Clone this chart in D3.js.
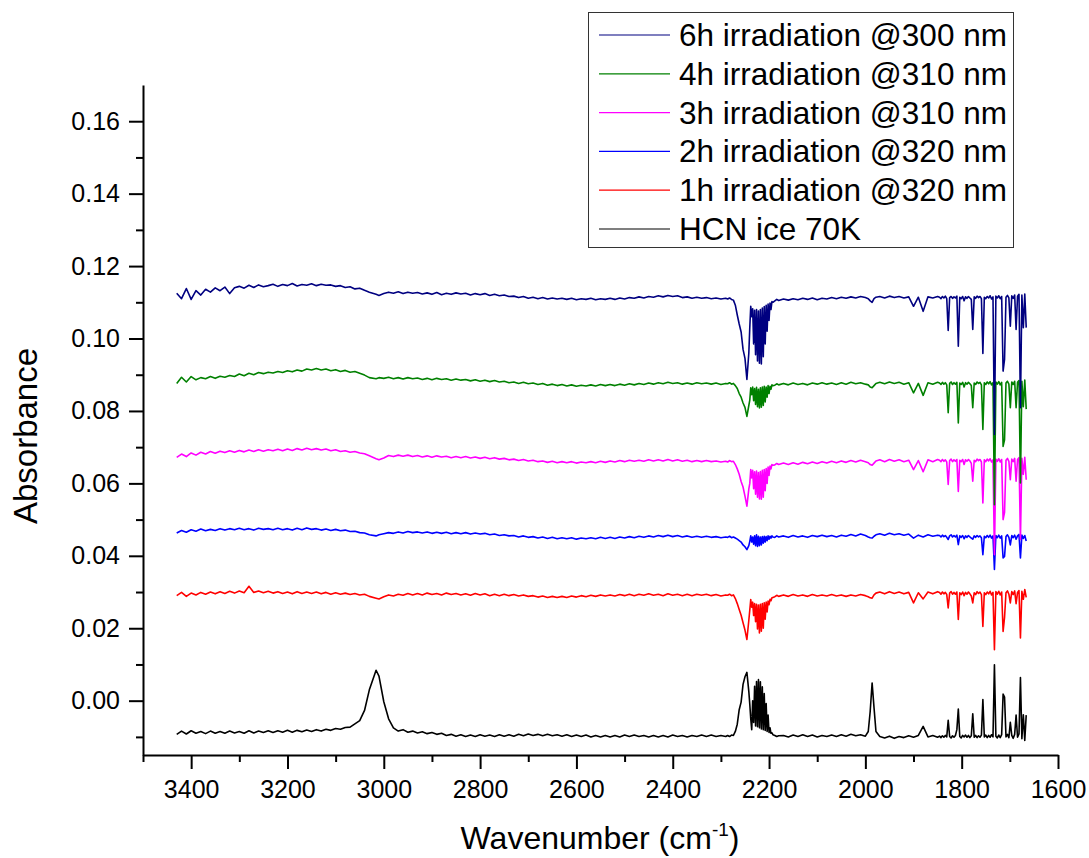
<!DOCTYPE html>
<html><head><meta charset="utf-8">
<script src="https://cdn.jsdelivr.net/npm/d3@7"></script>
<style>body{margin:0;background:#fff}</style>
</head><body><svg id="chart" width="1089" height="858"></svg>
<script>
// shared wavenumber grid (cm^-1)
const wavenumbers = [
3430,3420,3410,3400,3390,3380,3370,3360,3350,3340,
3330,3320,3310,3300,3290,3280,3270,3260,3250,3240,
3230,3220,3210,3200,3190,3180,3170,3160,3150,3140,
3130,3120,3110,3100,3090,3080,3070,3060,3050,3040,
3030,3016,3010,3000,2990,2980,2970,2960,2950,2940,
2930,2920,2910,2900,2890,2880,2870,2860,2850,2840,
2830,2820,2810,2800,2790,2780,2770,2760,2750,2740,
2730,2720,2710,2700,2690,2680,2670,2660,2650,2640,
2630,2620,2610,2600,2590,2580,2570,2560,2550,2540,
2530,2520,2510,2500,2490,2480,2470,2460,2450,2440,
2430,2420,2410,2400,2390,2380,2370,2360,2350,2340,
2330,2320,2310,2300,2290,
2286,2282,2278,2274,2270,2266,2262,2258,2254,2250,2246,2242,
2240,2238,2236,2234,2232,2230,2228,2226,2224,2222,2220,2218,2216,2214,2212,2210,2208,2206,2204,2202,2200,2198,2196,2194,2192,
2188,2184,2180,
2170,2160,2150,2140,2130,2120,2110,2100,2090,2080,
2070,2060,2050,2040,2030,2020,2010,2000,1994,1990,1986,1982,1978,
1970,1960,1950,1940,1930,1920,1910,1900,1890,1880,
1870,1860,1850,
1846,1843,1840,1837,1834,1831,1828,1825,1822,1819,
1816,1813,1810,1807,1804,1801,1798,1795,1792,1789,
1786,1783,1780,1777,1774,1771,1768,1765,1762,1759,
1756,1753,1750,1747,1744,1741,1738,1735,1732,1729,
1726,1723,1720,1717,1714,1711,1708,1705,1702,1699,
1696,1693,1690,1687,1684,1681,1678,1675,1672,1669,
1666];

const irr6h300 = [
0.1125,0.1110,0.1138,0.1108,0.1132,0.1120,0.1136,0.1128,0.1140,0.1132,
0.1142,0.1124,0.1140,0.1144,0.1139,0.1147,0.1141,0.1148,0.1143,0.1146,
0.1150,0.1144,0.1149,0.1146,0.1152,0.1145,0.1149,0.1147,0.1151,0.1146,
0.1150,0.1147,0.1148,0.1144,0.1146,0.1141,0.1143,0.1137,0.1139,0.1133,
0.1128,0.1122,0.1119,0.1124,0.1128,0.1125,0.1129,0.1124,0.1128,0.1125,
0.1127,0.1123,0.1126,0.1122,0.1127,0.1121,0.1125,0.1122,0.1126,0.1123,
0.1125,0.1120,0.1124,0.1121,0.1124,0.1119,0.1122,0.1118,0.1120,0.1116,
0.1117,0.1113,0.1116,0.1111,0.1114,0.1110,0.1113,0.1109,0.1112,0.1109,
0.1111,0.1108,0.1111,0.1107,0.1110,0.1108,0.1111,0.1107,0.1110,0.1108,
0.1111,0.1108,0.1112,0.1109,0.1113,0.1111,0.1115,0.1112,0.1116,0.1114,
0.1118,0.1115,0.1119,0.1116,0.1118,0.1113,0.1115,0.1111,0.1114,0.1111,
0.1113,0.1110,0.1112,0.1109,0.1111,
0.1109,0.1112,0.1108,0.1106,0.1092,0.1065,0.1040,0.1018,0.0970,0.0945,0.0887,0.0960,
0.1030,0.1089,0.1060,0.1082,0.0985,0.1078,0.0955,0.1080,0.0938,0.1076,0.0932,0.1080,0.0930,0.1084,0.0950,0.1088,0.0985,0.1092,0.1020,0.1095,0.1050,0.1098,0.1080,0.1102,0.1100,
0.1104,0.1108,0.1105,
0.1109,0.1106,0.1110,0.1107,0.1111,0.1108,0.1112,0.1107,0.1111,0.1109,
0.1113,0.1110,0.1114,0.1111,0.1115,0.1112,0.1116,0.1113,0.1110,0.1104,0.1100,0.1110,0.1114,
0.1116,0.1112,0.1117,0.1113,0.1116,0.1112,0.1115,0.1089,0.1114,0.1075,
0.1115,0.1112,0.1116,
0.1114,0.1110,0.1116,0.1112,0.1117,0.1110,0.1022,0.1113,0.1116,0.1111,
0.1115,0.1112,0.1117,0.0979,0.1114,0.1110,0.1116,0.1104,0.1115,0.1111,
0.1116,0.1112,0.1108,0.1025,0.1115,0.1111,0.1117,0.1113,0.1116,0.1110,
0.0959,0.1114,0.1110,0.1116,0.1112,0.1118,0.1109,0.1115,0.0735,0.1117,
0.1112,0.1118,0.1110,0.1116,0.0910,0.0942,0.1114,0.1119,0.1112,0.1034,
0.1118,0.1111,0.1120,0.1025,0.1117,0.1122,0.0809,0.1120,0.1030,0.1123,
0.1030];

const irr4h310 = [
0.0876,0.0893,0.0880,0.0895,0.0886,0.0892,0.0889,0.0895,0.0890,0.0896,
0.0893,0.0898,0.0895,0.0902,0.0897,0.0904,0.0900,0.0906,0.0903,0.0907,
0.0905,0.0909,0.0906,0.0911,0.0908,0.0913,0.0910,0.0916,0.0913,0.0917,
0.0913,0.0916,0.0911,0.0914,0.0909,0.0912,0.0907,0.0909,0.0904,0.0899,
0.0892,0.0889,0.0892,0.0890,0.0893,0.0889,0.0892,0.0888,0.0892,0.0889,
0.0891,0.0887,0.0890,0.0886,0.0890,0.0887,0.0889,0.0885,0.0888,0.0885,
0.0887,0.0883,0.0886,0.0882,0.0885,0.0881,0.0884,0.0880,0.0882,0.0878,
0.0880,0.0876,0.0879,0.0875,0.0877,0.0873,0.0876,0.0871,0.0874,0.0870,
0.0873,0.0869,0.0872,0.0868,0.0871,0.0869,0.0872,0.0869,0.0873,0.0870,
0.0873,0.0870,0.0874,0.0871,0.0875,0.0872,0.0876,0.0873,0.0877,0.0874,
0.0878,0.0875,0.0879,0.0876,0.0878,0.0874,0.0877,0.0874,0.0878,0.0875,
0.0877,0.0874,0.0877,0.0873,0.0876,
0.0875,0.0878,0.0874,0.0876,0.0870,0.0862,0.0848,0.0838,0.0822,0.0810,0.0785,0.0815,
0.0830,0.0864,0.0845,0.0866,0.0828,0.0862,0.0818,0.0865,0.0812,0.0860,0.0808,0.0864,0.0810,0.0866,0.0815,0.0868,0.0825,0.0866,0.0838,0.0870,0.0848,0.0868,0.0860,0.0872,0.0870,
0.0871,0.0875,0.0872,
0.0876,0.0872,0.0877,0.0873,0.0876,0.0872,0.0877,0.0874,0.0878,0.0874,
0.0877,0.0873,0.0878,0.0874,0.0879,0.0875,0.0878,0.0874,0.0872,0.0866,0.0864,0.0870,0.0876,
0.0879,0.0875,0.0880,0.0876,0.0879,0.0874,0.0878,0.0850,0.0876,0.0843,
0.0878,0.0874,0.0879,
0.0877,0.0873,0.0879,0.0874,0.0878,0.0872,0.0795,0.0876,0.0880,0.0873,
0.0878,0.0874,0.0879,0.0767,0.0877,0.0873,0.0879,0.0866,0.0878,0.0874,
0.0879,0.0875,0.0870,0.0809,0.0877,0.0873,0.0880,0.0876,0.0879,0.0872,
0.0749,0.0878,0.0873,0.0880,0.0875,0.0881,0.0872,0.0878,0.0541,0.0880,
0.0874,0.0881,0.0872,0.0879,0.0702,0.0720,0.0877,0.0882,0.0874,0.0809,
0.0880,0.0873,0.0882,0.0809,0.0879,0.0884,0.0601,0.0882,0.0812,0.0885,
0.0805];

const irr3h310 = [
0.0672,0.0681,0.0674,0.0684,0.0678,0.0686,0.0681,0.0688,0.0683,0.0689,
0.0685,0.0690,0.0686,0.0691,0.0687,0.0692,0.0688,0.0693,0.0689,0.0693,
0.0690,0.0694,0.0690,0.0695,0.0691,0.0696,0.0692,0.0697,0.0693,0.0696,
0.0692,0.0695,0.0690,0.0693,0.0688,0.0690,0.0686,0.0688,0.0684,0.0682,
0.0676,0.0668,0.0665,0.0670,0.0677,0.0674,0.0678,0.0675,0.0678,0.0674,
0.0677,0.0673,0.0676,0.0672,0.0676,0.0673,0.0675,0.0671,0.0674,0.0671,
0.0674,0.0670,0.0673,0.0669,0.0672,0.0668,0.0671,0.0667,0.0669,0.0665,
0.0667,0.0663,0.0666,0.0662,0.0664,0.0660,0.0662,0.0658,0.0661,0.0657,
0.0660,0.0657,0.0660,0.0656,0.0659,0.0657,0.0660,0.0657,0.0661,0.0658,
0.0662,0.0659,0.0663,0.0660,0.0664,0.0661,0.0664,0.0661,0.0665,0.0662,
0.0665,0.0662,0.0666,0.0662,0.0665,0.0661,0.0664,0.0660,0.0663,0.0660,
0.0663,0.0660,0.0662,0.0659,0.0661,
0.0659,0.0663,0.0660,0.0661,0.0652,0.0640,0.0625,0.0605,0.0590,0.0565,0.0537,0.0585,
0.0600,0.0638,0.0615,0.0636,0.0585,0.0632,0.0570,0.0634,0.0562,0.0630,0.0557,0.0633,0.0556,0.0636,0.0562,0.0638,0.0580,0.0641,0.0600,0.0645,0.0622,0.0648,0.0640,0.0652,0.0650,
0.0651,0.0655,0.0652,
0.0656,0.0652,0.0657,0.0653,0.0658,0.0654,0.0659,0.0655,0.0660,0.0656,
0.0661,0.0657,0.0662,0.0658,0.0663,0.0659,0.0664,0.0660,0.0657,0.0652,0.0650,0.0656,0.0662,
0.0665,0.0660,0.0666,0.0661,0.0665,0.0660,0.0664,0.0638,0.0663,0.0632,
0.0665,0.0660,0.0666,
0.0664,0.0660,0.0666,0.0661,0.0665,0.0659,0.0597,0.0663,0.0667,0.0660,
0.0665,0.0661,0.0666,0.0578,0.0664,0.0660,0.0666,0.0652,0.0665,0.0661,
0.0666,0.0662,0.0655,0.0606,0.0664,0.0660,0.0667,0.0663,0.0666,0.0659,
0.0546,0.0665,0.0660,0.0667,0.0662,0.0668,0.0659,0.0665,0.0403,0.0667,
0.0661,0.0668,0.0659,0.0666,0.0500,0.0520,0.0664,0.0669,0.0661,0.0610,
0.0667,0.0660,0.0669,0.0606,0.0666,0.0671,0.0445,0.0669,0.0625,0.0672,
0.0610];

const irr2h320 = [
0.0463,0.0470,0.0465,0.0472,0.0468,0.0474,0.0469,0.0473,0.0470,0.0475,
0.0471,0.0475,0.0472,0.0476,0.0472,0.0475,0.0471,0.0476,0.0473,0.0475,
0.0472,0.0476,0.0472,0.0475,0.0471,0.0476,0.0472,0.0477,0.0473,0.0475,
0.0471,0.0474,0.0470,0.0473,0.0469,0.0471,0.0467,0.0468,0.0464,0.0463,
0.0458,0.0455,0.0458,0.0461,0.0464,0.0462,0.0466,0.0463,0.0467,0.0464,
0.0466,0.0463,0.0466,0.0462,0.0465,0.0462,0.0465,0.0461,0.0464,0.0461,
0.0464,0.0460,0.0463,0.0460,0.0462,0.0458,0.0460,0.0456,0.0458,0.0455,
0.0456,0.0452,0.0455,0.0451,0.0453,0.0449,0.0452,0.0448,0.0451,0.0447,
0.0450,0.0447,0.0450,0.0446,0.0449,0.0447,0.0450,0.0447,0.0451,0.0448,
0.0451,0.0448,0.0452,0.0449,0.0453,0.0450,0.0454,0.0451,0.0455,0.0452,
0.0456,0.0453,0.0457,0.0453,0.0456,0.0452,0.0455,0.0451,0.0454,0.0451,
0.0454,0.0451,0.0453,0.0450,0.0452,
0.0451,0.0454,0.0450,0.0452,0.0449,0.0446,0.0442,0.0438,0.0430,0.0425,0.0417,0.0428,
0.0440,0.0455,0.0438,0.0452,0.0432,0.0455,0.0428,0.0458,0.0426,0.0454,0.0428,0.0452,0.0430,0.0453,0.0435,0.0454,0.0438,0.0453,0.0442,0.0455,0.0446,0.0454,0.0449,0.0455,0.0452,
0.0451,0.0455,0.0452,
0.0455,0.0451,0.0456,0.0452,0.0455,0.0451,0.0456,0.0453,0.0457,0.0453,
0.0456,0.0452,0.0457,0.0454,0.0459,0.0455,0.0460,0.0456,0.0452,0.0450,0.0449,0.0454,0.0458,
0.0461,0.0457,0.0462,0.0458,0.0461,0.0457,0.0460,0.0449,0.0457,0.0452,
0.0458,0.0454,0.0457,
0.0456,0.0452,0.0457,0.0453,0.0456,0.0451,0.0445,0.0455,0.0458,0.0452,
0.0456,0.0452,0.0457,0.0431,0.0455,0.0451,0.0456,0.0447,0.0455,0.0451,
0.0456,0.0452,0.0449,0.0446,0.0455,0.0451,0.0456,0.0452,0.0455,0.0450,
0.0403,0.0454,0.0450,0.0456,0.0451,0.0457,0.0449,0.0455,0.0362,0.0456,
0.0450,0.0457,0.0449,0.0455,0.0394,0.0398,0.0453,0.0458,0.0451,0.0430,
0.0456,0.0450,0.0457,0.0446,0.0455,0.0459,0.0394,0.0457,0.0448,0.0456,
0.0441];

const irr1h320 = [
0.0290,0.0299,0.0288,0.0297,0.0292,0.0299,0.0294,0.0300,0.0295,0.0301,
0.0296,0.0302,0.0297,0.0303,0.0298,0.0316,0.0299,0.0303,0.0298,0.0302,
0.0297,0.0301,0.0296,0.0300,0.0295,0.0301,0.0296,0.0300,0.0296,0.0300,
0.0295,0.0299,0.0294,0.0298,0.0294,0.0297,0.0293,0.0296,0.0292,0.0294,
0.0288,0.0283,0.0281,0.0287,0.0292,0.0289,0.0294,0.0291,0.0296,0.0292,
0.0296,0.0292,0.0297,0.0293,0.0296,0.0292,0.0297,0.0293,0.0296,0.0292,
0.0295,0.0291,0.0296,0.0292,0.0295,0.0290,0.0294,0.0290,0.0294,0.0290,
0.0293,0.0289,0.0292,0.0288,0.0290,0.0286,0.0289,0.0285,0.0288,0.0285,
0.0288,0.0285,0.0289,0.0286,0.0290,0.0287,0.0291,0.0288,0.0292,0.0289,
0.0292,0.0289,0.0293,0.0290,0.0294,0.0290,0.0294,0.0291,0.0295,0.0291,
0.0294,0.0290,0.0295,0.0291,0.0294,0.0290,0.0294,0.0290,0.0294,0.0291,
0.0294,0.0290,0.0293,0.0289,0.0292,
0.0291,0.0294,0.0290,0.0292,0.0282,0.0268,0.0252,0.0236,0.0215,0.0195,0.0169,0.0222,
0.0250,0.0279,0.0258,0.0272,0.0235,0.0268,0.0218,0.0266,0.0198,0.0264,0.0187,0.0266,0.0192,0.0268,0.0200,0.0270,0.0225,0.0272,0.0245,0.0275,0.0265,0.0280,0.0276,0.0284,0.0285,
0.0287,0.0291,0.0288,
0.0292,0.0288,0.0293,0.0289,0.0292,0.0288,0.0293,0.0289,0.0292,0.0289,
0.0293,0.0289,0.0292,0.0288,0.0292,0.0289,0.0293,0.0290,0.0287,0.0284,0.0283,0.0292,0.0297,
0.0300,0.0295,0.0301,0.0296,0.0300,0.0295,0.0299,0.0270,0.0298,0.0281,
0.0300,0.0295,0.0301,
0.0299,0.0294,0.0300,0.0295,0.0299,0.0293,0.0256,0.0297,0.0301,0.0294,
0.0299,0.0294,0.0300,0.0224,0.0298,0.0293,0.0300,0.0290,0.0299,0.0294,
0.0300,0.0295,0.0289,0.0270,0.0298,0.0293,0.0301,0.0296,0.0300,0.0293,
0.0205,0.0298,0.0293,0.0300,0.0295,0.0302,0.0292,0.0299,0.0141,0.0301,
0.0294,0.0302,0.0292,0.0300,0.0191,0.0230,0.0298,0.0303,0.0294,0.0270,
0.0301,0.0293,0.0303,0.0268,0.0299,0.0304,0.0173,0.0302,0.0280,0.0307,
0.0285];

const hcnIce70K = [
-0.0093,-0.0084,-0.0092,-0.0083,-0.0090,-0.0085,-0.0091,-0.0084,-0.0090,-0.0085,
-0.0090,-0.0084,-0.0089,-0.0085,-0.0090,-0.0083,-0.0089,-0.0084,-0.0088,-0.0083,
-0.0088,-0.0083,-0.0087,-0.0082,-0.0087,-0.0082,-0.0086,-0.0081,-0.0085,-0.0080,
-0.0084,-0.0079,-0.0082,-0.0077,-0.0079,-0.0074,-0.0073,-0.0064,-0.0055,-0.0027,
0.0030,0.0084,0.0068,-0.0003,-0.0050,-0.0075,-0.0084,-0.0080,-0.0087,-0.0084,
-0.0089,-0.0086,-0.0091,-0.0088,-0.0093,-0.0090,-0.0096,-0.0093,-0.0098,-0.0094,
-0.0099,-0.0095,-0.0099,-0.0094,-0.0098,-0.0095,-0.0099,-0.0094,-0.0098,-0.0094,
-0.0098,-0.0093,-0.0097,-0.0092,-0.0096,-0.0093,-0.0097,-0.0093,-0.0097,-0.0094,
-0.0098,-0.0094,-0.0099,-0.0095,-0.0099,-0.0095,-0.0100,-0.0096,-0.0100,-0.0096,
-0.0100,-0.0096,-0.0100,-0.0095,-0.0099,-0.0095,-0.0099,-0.0096,-0.0100,-0.0096,
-0.0100,-0.0096,-0.0100,-0.0095,-0.0099,-0.0096,-0.0100,-0.0096,-0.0099,-0.0095,
-0.0099,-0.0095,-0.0099,-0.0096,-0.0099,
-0.0096,-0.0099,-0.0095,-0.0096,-0.0085,-0.0065,-0.0025,-0.0004,0.0045,0.0066,0.0078,0.0025,
-0.0010,-0.0050,-0.0080,0.0000,-0.0060,0.0040,-0.0070,0.0053,-0.0072,0.0058,-0.0075,0.0052,-0.0078,0.0038,-0.0080,0.0020,-0.0082,-0.0008,-0.0085,-0.0040,-0.0088,-0.0075,-0.0090,-0.0089,-0.0094,
-0.0096,-0.0099,-0.0097,
-0.0096,-0.0100,-0.0095,-0.0099,-0.0094,-0.0099,-0.0095,-0.0100,-0.0096,-0.0099,
-0.0095,-0.0099,-0.0094,-0.0098,-0.0093,-0.0097,-0.0094,-0.0098,-0.0085,-0.0030,0.0049,-0.0020,-0.0085,
-0.0099,-0.0103,-0.0098,-0.0104,-0.0099,-0.0102,-0.0097,-0.0101,-0.0096,-0.0071,
-0.0100,-0.0096,-0.0101,
-0.0098,-0.0102,-0.0097,-0.0101,-0.0096,-0.0100,-0.0054,-0.0099,-0.0103,-0.0097,
-0.0101,-0.0096,-0.0080,-0.0023,-0.0099,-0.0103,-0.0096,-0.0100,-0.0095,-0.0101,
-0.0096,-0.0102,-0.0097,-0.0036,-0.0101,-0.0096,-0.0102,-0.0097,-0.0101,-0.0095,
0.0003,-0.0100,-0.0095,-0.0102,-0.0096,-0.0101,-0.0094,-0.0100,0.0099,-0.0098,
-0.0103,-0.0095,-0.0102,-0.0094,0.0018,0.0010,-0.0100,-0.0093,-0.0102,-0.0060,
-0.0096,-0.0104,-0.0093,-0.0040,-0.0101,-0.0092,0.0064,-0.0105,-0.0039,-0.0110,
-0.0040];

// legend order (top to bottom) and colours
const seriesNames = ["6h irradiation @300 nm","4h irradiation @310 nm","3h irradiation @310 nm","2h irradiation @320 nm","1h irradiation @320 nm","HCN ice 70K"];
const seriesColors = ["#000080","#008000","#ff00ff","#0000ff","#ff0000","#000000"];
const seriesValues = [irr6h300, irr4h310, irr3h310, irr2h320, irr1h320, hcnIce70K];

const xMajorTicks = [3400,3200,3000,2800,2600,2400,2200,2000,1800,1600];
const xMinorTicks = [3500,3300,3100,2900,2700,2500,2300,2100,1900,1700];
const yMajorTicks = [0.00,0.02,0.04,0.06,0.08,0.10,0.12,0.14,0.16];
const yMinorTicks = [-0.01,0.01,0.03,0.05,0.07,0.09,0.11,0.13,0.15];

const FONT = "'Liberation Sans', Arial, Helvetica, sans-serif";
const svg = d3.select("#chart");
svg.append("rect").attr("width",1089).attr("height",858).attr("fill","#fff");

const x = d3.scaleLinear().domain([3500,1600]).range([143,1058]);
const y = d3.scaleLinear().domain([-0.015,0.17]).range([755,85]);

const line = d3.line().x(d=>x(d[0])).y(d=>y(d[1]));

// draw from bottom of legend upward so the 6h trace is on top
for (let s = seriesValues.length-1; s >= 0; s--) {
  const vals = seriesValues[s];
  const n = Math.min(vals.length, wavenumbers.length);
  const pts = [];
  for (let i=0;i<n;i++) pts.push([wavenumbers[i], vals[i]]);
  svg.append("path").datum(pts).attr("d", line)
    .attr("fill","none").attr("stroke", seriesColors[s])
    .attr("stroke-width",1.6).attr("stroke-linejoin","round");
}

function styleAxis(g){
  g.selectAll("path.domain").attr("stroke","#000").attr("stroke-width",2);
  g.selectAll(".tick line").attr("stroke","#000").attr("stroke-width",2);
  g.selectAll(".tick text").attr("fill","#000").style("font-family",FONT).style("font-size","25px");
}

// x axis
const gx = svg.append("g").attr("transform","translate(0,755)")
  .call(d3.axisBottom(x).tickValues(xMajorTicks).tickSize(14).tickSizeOuter(0).tickPadding(11).tickFormat(d3.format("d")));
styleAxis(gx);
const gxm = svg.append("g").attr("transform","translate(0,755)")
  .call(d3.axisBottom(x).tickValues(xMinorTicks).tickSize(7).tickSizeOuter(0).tickFormat(""));
gxm.select("path.domain").remove();
styleAxis(gxm);

// y axis
const gy = svg.append("g").attr("transform","translate(143,0)")
  .call(d3.axisLeft(y).tickValues(yMajorTicks).tickSize(14).tickSizeOuter(0).tickPadding(9).tickFormat(d3.format(".2f")));
styleAxis(gy);
const gym = svg.append("g").attr("transform","translate(143,0)")
  .call(d3.axisLeft(y).tickValues(yMinorTicks).tickSize(7).tickSizeOuter(0).tickFormat(""));
gym.select("path.domain").remove();
styleAxis(gym);

// axis titles
const xt = svg.append("text").attr("x",600).attr("y",849).attr("text-anchor","middle")
  .style("font-family",FONT).style("font-size","32px").attr("fill","#000");
xt.append("tspan").text("Wavenumber (cm");
xt.append("tspan").attr("dy",-13).style("font-size","19px").text("-1");
xt.append("tspan").attr("dy",13).text(")");

svg.append("text").attr("transform","translate(37,436) rotate(-90)")
  .attr("text-anchor","middle").style("font-family",FONT).style("font-size","33px")
  .attr("fill","#000").text("Absorbance");

// legend
const lg = svg.append("g");
lg.append("rect").attr("x",588.5).attr("y",12.5).attr("width",425).attr("height",235)
  .attr("fill","#fff").attr("stroke","#333").attr("stroke-width",1);
const rowY = d3.scaleLinear().domain([0,5]).range([35,229]);
seriesNames.forEach((name,i)=>{
  const yy = rowY(i);
  lg.append("line").attr("x1",599).attr("x2",670).attr("y1",yy).attr("y2",yy)
    .attr("stroke",seriesColors[i]).attr("stroke-width",1.2);
  lg.append("text").attr("x",679).attr("y",yy+11).style("font-family",FONT)
    .style("font-size","31.5px").attr("fill","#000").text(name);
});
</script>
</body></html>
